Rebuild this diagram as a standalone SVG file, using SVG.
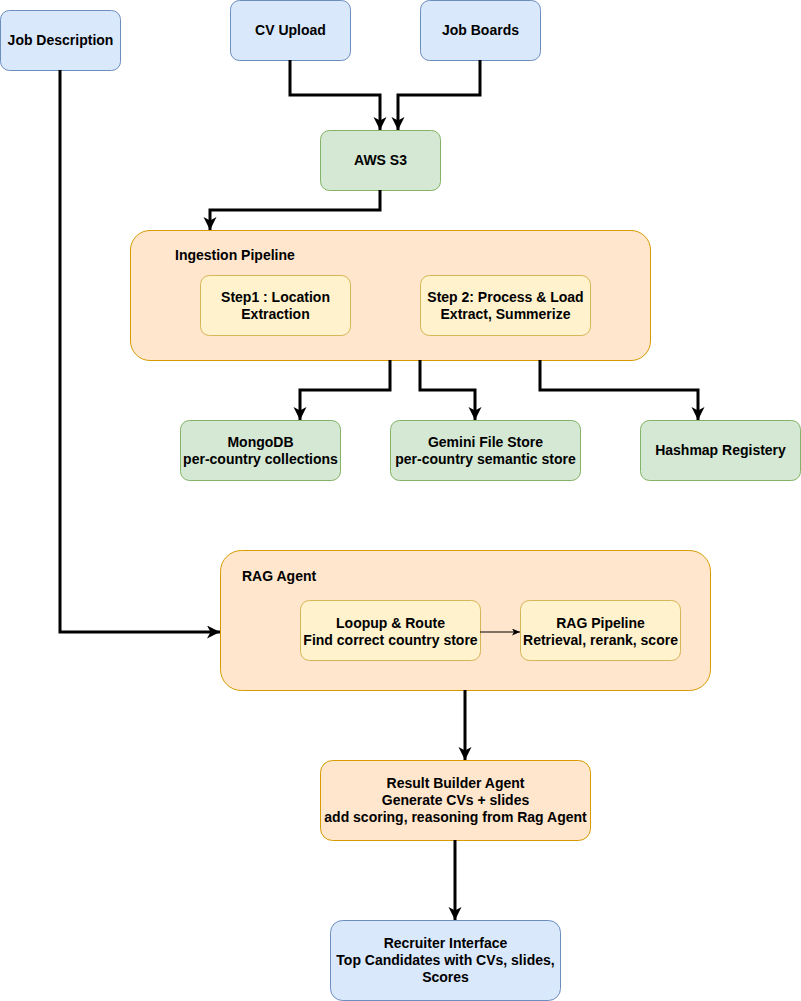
<svg xmlns="http://www.w3.org/2000/svg" width="801" height="1001" viewBox="0 0 801 1001">
<style>
text{font-family:"Liberation Sans",Arial,Helvetica,sans-serif;font-size:14px;font-weight:bold;fill:#000;text-anchor:middle}
.l{text-anchor:start}
.blue{fill:#dae8fc;stroke:#6c8ebf;stroke-width:1}
.green{fill:#d5e8d4;stroke:#82b366;stroke-width:1}
.orange{fill:#ffe6cc;stroke:#d79b00;stroke-width:1}
.yellow{fill:#fff2cc;stroke:#d6b656;stroke-width:1}
.c{fill:none;stroke:#000;stroke-width:3;marker-end:url(#ah)}
.t{fill:none;stroke:#000;stroke-width:1;marker-end:url(#ahs)}
</style>
<defs>
<marker id="ah" markerUnits="userSpaceOnUse" markerWidth="14" markerHeight="14" refX="13" refY="6.5" orient="auto" viewBox="0 0 14 14">
<path d="M13,6.5 L0,0 L3.5,6.5 L0,13 Z" fill="#000"/>
</marker>
<marker id="ahs" markerUnits="userSpaceOnUse" markerWidth="9" markerHeight="8" refX="8" refY="3.5" orient="auto" viewBox="0 0 9 8">
<path d="M8,3.5 L0,0 L2,3.5 L0,7 Z" fill="#000"/>
</marker>
</defs>
<g id="job-description"><rect class="blue" x="0.5" y="10.5" width="120" height="60" rx="9"/><text x="60.5" y="45">Job Description</text></g>
<g id="cv-upload"><rect class="blue" x="230.5" y="0.5" width="120" height="60" rx="9"/><text x="290.5" y="35">CV Upload</text></g>
<g id="job-boards"><rect class="blue" x="420.5" y="0.5" width="120" height="60" rx="9"/><text x="480.5" y="35">Job Boards</text></g>
<g id="aws-s3"><rect class="green" x="320.5" y="130.5" width="120" height="60" rx="9"/><text x="380.5" y="165">AWS S3</text></g>
<g id="ingestion-pipeline">
<rect class="orange" x="130.5" y="230.5" width="520" height="130" rx="19.5"/>
<text class="l" x="175" y="260">Ingestion Pipeline</text>
</g>
<g id="step1"><rect class="yellow" x="200.5" y="275.5" width="150" height="60" rx="9"/><text x="275.5" y="302">Step1 : Location</text><text x="275.5" y="319">Extraction</text></g>
<g id="step2"><rect class="yellow" x="420.5" y="275.5" width="170" height="60" rx="9"/><text x="505.5" y="302">Step 2: Process &amp; Load</text><text x="505.5" y="319">Extract, Summerize</text></g>
<g id="mongodb"><rect class="green" x="180.5" y="420.5" width="160" height="60" rx="9"/><text x="260.5" y="447">MongoDB</text><text x="260.5" y="464">per-country collections</text></g>
<g id="gemini"><rect class="green" x="390.5" y="420.5" width="190" height="60" rx="9"/><text x="485.5" y="447">Gemini File Store</text><text x="485.5" y="464">per-country semantic store</text></g>
<g id="hashmap"><rect class="green" x="640.5" y="420.5" width="160" height="60" rx="9"/><text x="720.5" y="455">Hashmap Registery</text></g>
<g id="rag-agent">
<rect class="orange" x="220.5" y="550.5" width="490" height="140" rx="21"/>
<text class="l" x="242" y="581">RAG Agent</text>
</g>
<g id="lookup"><rect class="yellow" x="300.5" y="600.5" width="180" height="60" rx="9"/><text x="390.5" y="628">Loopup &amp; Route</text><text x="390.5" y="645">Find correct country store</text></g>
<g id="rag-pipeline"><rect class="yellow" x="520.5" y="600.5" width="160" height="60" rx="9"/><text x="600.5" y="628">RAG Pipeline</text><text x="600.5" y="645">Retrieval, rerank, score</text></g>
<g id="result-builder"><rect class="orange" x="320.5" y="760.5" width="270" height="80" rx="12"/><text x="455.5" y="788">Result Builder Agent</text><text x="455.5" y="805">Generate CVs + slides</text><text x="455.5" y="822">add scoring, reasoning from Rag Agent</text></g>
<g id="recruiter"><rect class="blue" x="330.5" y="920.5" width="230" height="80" rx="12"/><text x="445.5" y="948">Recruiter Interface</text><text x="445.5" y="965">Top Candidates with CVs, slides,</text><text x="445.5" y="982">Scores</text></g>
<g id="connectors">
<path class="c" d="M290,60 V95 H380 V130"/>
<path class="c" d="M480,60 V95 H398 V130"/>
<path class="c" d="M380,190 V210 H210 V230"/>
<path class="c" d="M60,70 V632 H220"/>
<path class="c" d="M390,360 V390 H300 V420"/>
<path class="c" d="M420,360 V390 H475 V420"/>
<path class="c" d="M540,360 V390 H698 V420"/>
<path class="t" d="M480,632 H520"/>
<path class="c" d="M465,690 V760"/>
<path class="c" d="M455,840 V920"/>
</g>
</svg>
